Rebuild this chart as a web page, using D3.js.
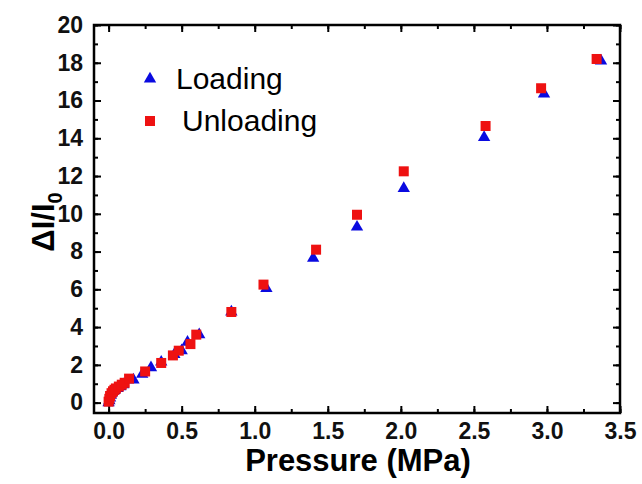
<!DOCTYPE html>
<html>
<head>
<meta charset="utf-8">
<script src="https://cdn.jsdelivr.net/npm/d3@7"></script>
<style>
  body { margin: 0; background: #fff; }
  svg text { font-family: Arial, 'Liberation Sans', sans-serif; }
</style>
</head>
<body>
<div id="chart"></div>
<script>
// loading (blue triangles)
const loadP = [0, 0.005, 0.01, 0.015, 0.02, 0.03, 0.04, 0.06, 0.08, 0.1, 0.17, 0.23, 0.29, 0.36, 0.45, 0.5, 0.54, 0.62, 0.84, 1.08, 1.40, 1.70, 2.02, 2.57, 2.98, 3.37];
const loadV = [0, 0.1, 0.25, 0.4, 0.5, 0.6, 0.65, 0.75, 0.85, 0.95, 1.2, 1.5, 1.85, 2.15, 2.55, 2.75, 3.2, 3.6, 4.8, 6.05, 7.65, 9.3, 11.35, 14.05, 16.35, 18.1];
// unloading (red squares)
const unloadP = [0, 0.005, 0.01, 0.02, 0.03, 0.04, 0.05, 0.07, 0.09, 0.11, 0.14, 0.25, 0.36, 0.44, 0.48, 0.56, 0.60, 0.84, 1.06, 1.42, 1.70, 2.02, 2.58, 2.96, 3.34];
const unloadV = [0.05, 0.2, 0.35, 0.5, 0.6, 0.68, 0.75, 0.85, 0.95, 1.05, 1.27, 1.65, 2.1, 2.5, 2.75, 3.1, 3.6, 4.8, 6.25, 8.1, 9.95, 12.25, 14.65, 16.65, 18.2];

const xTicks = [0, 0.5, 1.0, 1.5, 2.0, 2.5, 3.0, 3.5];
const yTicks = [0, 2, 4, 6, 8, 10, 12, 14, 16, 18, 20];

const W = 642, H = 484;
const margin = { top: 25, right: 22, bottom: 71, left: 94 };
const width = W - margin.left - margin.right;
const height = H - margin.top - margin.bottom;

const svg = d3.select('#chart').append('svg').attr('width', W).attr('height', H);
const g = svg.append('g').attr('transform', 'translate(' + margin.left + ',' + margin.top + ')');

const x = d3.scaleLinear().domain([-0.1, 3.5]).range([0, width]);
const y = d3.scaleLinear().domain([-0.55, 20]).range([height, 0]);

const minorX = d3.range(0, 3.51, 0.25);
const minorY = d3.range(0, 20.1, 1);

// inward ticks on all four sides
function tickAxis(axis, sel, major, minor, labels) {
  sel.append('g').call(axis.tickValues(minor).tickSize(-4).tickFormat(''))
    .call(a => a.select('.domain').remove());
  const m = sel.append('g').call(axis.tickValues(major).tickSize(-7).tickPadding(10).tickFormat(labels));
  m.select('.domain').remove();
  return m;
}

const bx = tickAxis(d3.axisBottom(x), g.append('g').attr('transform', 'translate(0,' + height + ')'), xTicks, minorX, d3.format('.1f'));
bx.selectAll('text').attr('font-size', 23).attr('font-weight', 'bold').attr('fill', '#111');
tickAxis(d3.axisTop(x), g.append('g'), xTicks, minorX, '');
const ly = tickAxis(d3.axisLeft(y), g.append('g'), yTicks, minorY, d3.format('d'));
ly.selectAll('text').attr('font-size', 23).attr('font-weight', 'bold').attr('fill', '#111').attr('dx', -1);
tickAxis(d3.axisRight(y), g.append('g').attr('transform', 'translate(' + width + ',0)'), yTicks, minorY, '');
g.selectAll('.tick line').attr('stroke', '#000').attr('stroke-width', 2);

g.append('rect').attr('width', width).attr('height', height)
  .attr('fill', 'none').attr('stroke', '#000').attr('stroke-width', 2.5);

// data
const tri = d3.symbol().type(d3.symbolTriangle).size(66);
g.append('g').selectAll('path').data(d3.range(loadP.length)).join('path')
  .attr('d', tri)
  .attr('transform', i => 'translate(' + x(loadP[i]) + ',' + y(loadV[i]) + ')')
  .attr('fill', '#0a0ae0');

const sq = 10;
g.append('g').selectAll('rect').data(d3.range(unloadP.length)).join('rect')
  .attr('x', i => x(unloadP[i]) - sq / 2)
  .attr('y', i => y(unloadV[i]) - sq / 2)
  .attr('width', sq).attr('height', sq)
  .attr('fill', '#ee1111');

// legend
const leg = svg.append('g');
leg.append('path').attr('d', tri).attr('transform', 'translate(150,79)').attr('fill', '#0a0ae0');
leg.append('text').attr('x', 176).attr('y', 89).attr('font-size', 30).text('Loading');
leg.append('rect').attr('x', 145).attr('y', 116).attr('width', 10).attr('height', 10).attr('fill', '#ee1111');
leg.append('text').attr('x', 182).attr('y', 131).attr('font-size', 30).text('Unloading');

// axis titles
svg.append('text').attr('x', margin.left + width / 2 + 1).attr('y', 471)
  .attr('text-anchor', 'middle').attr('font-size', 31).attr('font-weight', 'bold').text('Pressure (MPa)');

const yt = svg.append('text').attr('transform', 'translate(54,222) rotate(-90)')
  .attr('text-anchor', 'middle').attr('font-size', 31).attr('font-weight', 'bold');
yt.append('tspan').text('\u0394I/I');
yt.append('tspan').attr('font-size', 20).attr('dy', 8).text('0');
</script>
</body>
</html>
